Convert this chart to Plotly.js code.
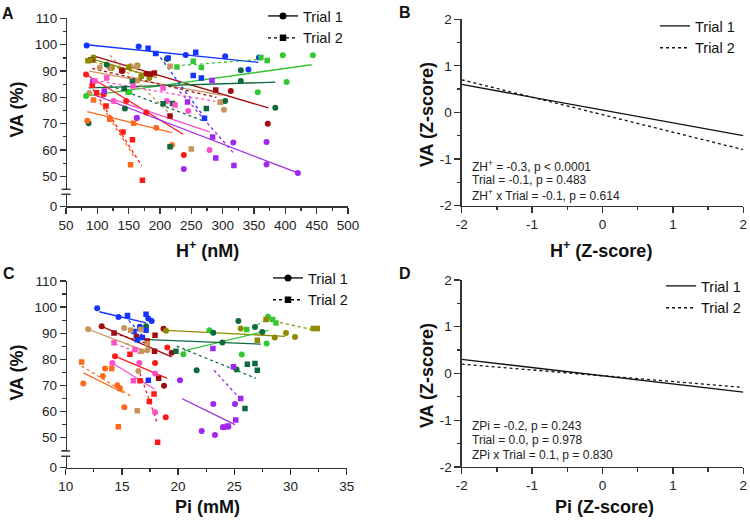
<!DOCTYPE html>
<html>
<head>
<meta charset="utf-8">
<script src="https://cdn.plot.ly/plotly-3.0.1.min.js"></script>
<style>html,body{margin:0;padding:0;background:#fff;}#chart{width:750px;height:520px;}</style>
</head>
<body>
<div id="chart"></div>
<script>
// ---------------- DATA ----------------
const participants = ['P1','P2','P3','P4','P5','P6','P7','P8','P9','P10'];
const trialNames = ['Trial 1','Trial 2'];

// Panel A: H+ (nM) vs VA (%), per participant
const A1_H  = [[83,166,241,304,341,358],[93,140,178,313,372],[94,123,164,183],[87,104,120,153,164,298,302],[82,151,356,396,402,444],[86,115,144,211,304,329,329,384],[82,110,146,178,238],[84,120,194,219],[126,163,211,245,279],[93,163,238,317,370,370,420]];
const A1_VA = [[99.7,99.3,96.1,95.6,90.6,95.2],[94.5,90,89,82.4,70],[95.2,91.2,92.1,87.4],[81.7,91.4,91.2,91.8,86.4,78.3,75.3],[80.5,82,82,96,85.9,96],[70.2,92.4,75.8,94.6,78.6,90.3,86.2,76.1],[88.7,81.1,78.6,74.3,58.1],[71.1,72.1,68.5,61.9],[78.6,72.1,78.6,74.8,60],[86.2,72.3,52.8,62.9,63.1,54.5,51.3]];
const A2_H  = [[181,193,213,257,253,266,271],[90,139,184,191,216,289],[85,89,150,170],[163,216,250,296],[149,227,253,266,361,371],[143,156,205,220,216,274],[92,99,114,141,156,172],[94,120,158,153],[96,115,157,205,224],[111,244,283,284,289,318]];
const A2_VA = [[98.7,96.7,95,97.2,88.3,87.4,72.1],[94.3,90.2,88.9,89.3,72.9,82.8],[93.9,94.1,91.5,88],[91.8,91.8,60.4,78.2],[82.1,91.6,93.7,91.4,95.2,94],[83.4,86.1,77.6,77.7,61.3,75.8],[84.6,81.8,76.7,66.9,63.9,48.5],[79,71.7,70.2,54.4],[86.2,87.4,84.3,83.6,77.1],[82.4,78.3,86.4,65,57,54.1]];
// regression line end points (x start/end, y start/end)
const A1_fitH  = [[83,357],[91,373],[85,195],[87,300],[81,442],[86,384],[82,237],[84,219],[126,279],[94,420]];
const A1_fitVA = [[100,93.3],[96,76],[95,87.5],[90,80.8],[80.5,92.4],[83.6,85.8],[88.7,66],[74.6,66.6],[79.2,66.9],[81.1,51.3]];
const A2_fitH  = [[195,272],[92,290],[85,190],[120,215],[216,370],[120,270],[88,171],[104,160],[96,288],[225,317]];
const A2_fitVA = [[97,72],[91,80],[94,88],[96,74],[91.8,94.6],[84.5,71],[85,54],[78,57],[86.5,78.5],[84,59]];

// Panel C: Pi (mM) vs VA (%)
const C1_Pi = [[12.8,14.7,16.6,17.35,17.65],[13.2,16.3,18.7,19.43,18.75],[18.93,25.57,28.6,29.6,30.4],[12.0,15.2,16.46,16.76,17.26],[20.47,22.78,25.66,27.88,28.0],[17.15,21.65,23.13,23.94,25.2,25.36,26.84,27.49],[14.39,17.95,19.04,18.9],[11.57,13.3,13.5,14.6,15.22],[14.15,16.55,17.95,17.95],[20.17,22.1,23.13,23.28,24.0,24.47,25.06]];
const C1_VA = [[99.5,96.2,92.5,95.6,94.7],[92.6,88.8,91.7,82.5,69.9],[90.9,91.8,88.3,90.1,88.5],[91.5,92,75.5,83.1,83.5],[81.9,91.1,81.8,86,96.3],[92.6,75.8,90.2,86.4,76.1,94.7,92.4,90.4],[81.2,78.6,84.5,57.8],[70.7,73.6,76.5,70.1,61.6],[78.6,78.6,74.6,59.7],[72,52.5,62.9,51,54,54.2,62.9]];
const C2_Pi = [[15.5,17.15,16.08,16.82,16.37,17.15,17.35],[14.3,17.95,17.9,18.27,17.26],[27.05,27.82,32.03,32.38],[15.78,16.67,17.26,16.37],[26.1,28.42,28.71],[19.81,26.16,26.84,27.05,25.95],[15.72,16.61,17.44,17.86,18.18],[11.42,14.09,14.83,14.68],[14.3,16.17,16.02],[23.1,24.92,25.57,25.13,24.03,24.4]];
const C2_VA = [[96.8,97.2,90.6,88.3,87.5,91.1,72],[90.1,89.2,83.1,72.7,87],[87.3,95.2,91.8,91.8],[91.1,91.4,86,60.3],[91.4,95.2,93.9],[83.1,78.1,78.4,75.8,61.2],[81.9,71.8,63.8,66.7,48.2],[79,76.5,68.8,54.2],[86.3,83.7,71.8],[84.1,77.1,65,56.8,54,54.5]];
const C1_fitPi = [[12.99,17.15],[13.2,19.43],[18.93,29.51],[12.0,17.26],[20.53,28.03],[17.35,27.37],[14.39,19.04],[11.57,15.13],[14.15,17.89],[20.32,25.06]];
const C1_fitVA = [[98.2,93.9],[92.6,80.9],[91.1,88.8],[91.5,82.8],[83.2,91.1],[87.5,85.8],[81.2,72.7],[74.8,67.2],[78.6,68.6],[65,55]];
const C2_fitPi = [[15.6,17.15],[14.3,17.3],[28.03,32.18],[15.4,17.3],[26.1,28.2],[19.87,26.93],[16.61,18.15],[11.42,15.81],[14.39,16.76],[23.2,25.36]];
const C2_fitVA = [[94.9,87.5],[90,86],[95.1,91.1],[86,82.5],[91.1,95.8],[85,72.7],[74.6,55.5],[77.4,65.9],[86,81.9],[75.8,65.6]];

// Panels B and D: model lines (Z-scores)
const zX    = [-2, 2];
const zB_T1 = [0.6, -0.5];
const zB_T2 = [0.7, -0.8];
const zD_T1 = [0.3, -0.4];
const zD_T2 = [0.2, -0.3];

// tick labels
const yTicksA = [50,60,70,80,90,100,110];
const yTicksBreak = [0];
const xTicksA = [50,100,150,200,250,300,350,400,450,500];
const xTicksC = [10,15,20,25,30,35];
const zTickVals = [-2,-1,0,1,2];
const zTickText = ['-2','-1','0','1','2'];

// text
const statsB = ['ZH<sup>+</sup> = -0.3, p &lt; 0.0001','Trial = -0.1, p = 0.483','ZH<sup>+</sup> x Trial = -0.1, p = 0.614'];
const statsD = ['ZPi = -0.2, p = 0.243','Trial = 0.0, p = 0.978','ZPi x Trial = 0.1, p = 0.830'];

// ---------------- STYLE ----------------
const palette = ['#1433ff','#9e0c10','#8e8a00','#c8945a','#33c833','#0e6a3c','#ff1a1a','#ff6a1a','#ff4fc8','#a027ee'];
const FONT = 'Arial, "Liberation Sans", Helvetica, sans-serif';
const W = 750, H = 520;
const fx = p => p / W;
const fy = p => 1 - p / H;

const traces = [];
function addFits(xs, ys, dash, xa, ya) {
  xs.forEach((xx, i) => traces.push({
    x: xx, y: ys[i], mode: 'lines', xaxis: xa, yaxis: ya, showlegend: false, hoverinfo: 'skip',
    line: {color: palette[i], width: 1.3, dash: dash}
  }));
}
function addPoints(xs, ys, symbol, size, xa, ya) {
  xs.forEach((xx, i) => traces.push({
    x: xx, y: ys[i], mode: 'markers', xaxis: xa, yaxis: ya, showlegend: false, name: participants[i],
    marker: {color: palette[i], size: size, symbol: symbol, line: {width: 0}}
  }));
}
// Panel A
addFits(A1_fitH, A1_fitVA, 'solid', 'x', 'y');
addFits(A2_fitH, A2_fitVA, 'dot', 'x', 'y');
addPoints(A1_H, A1_VA, 'circle', 6, 'x', 'y');
addPoints(A2_H, A2_VA, 'square', 5.5, 'x', 'y');
// Panel C
addFits(C1_fitPi, C1_fitVA, 'solid', 'x3', 'y4');
addFits(C2_fitPi, C2_fitVA, 'dot', 'x3', 'y4');
addPoints(C1_Pi, C1_VA, 'circle', 6, 'x3', 'y4');
addPoints(C2_Pi, C2_VA, 'square', 5.5, 'x3', 'y4');
// empty traces so the short axis-break segments get their own subplots
traces.push({x:[null], y:[null], xaxis:'x', yaxis:'y2', mode:'markers', showlegend:false});
traces.push({x:[null], y:[null], xaxis:'x3', yaxis:'y5', mode:'markers', showlegend:false});
// legend entries for A and C
[['x','y','legend'],['x3','y4','legend3']].forEach(([xa, ya, lg]) => {
  traces.push({x:[null], y:[null], xaxis:xa, yaxis:ya, mode:'lines+markers', name:trialNames[0], legend:lg,
    line:{color:'#000', width:1.3}, marker:{symbol:'circle', size:7, color:'#000'}});
  traces.push({x:[null], y:[null], xaxis:xa, yaxis:ya, mode:'lines+markers', name:trialNames[1], legend:lg,
    line:{color:'#000', width:1.3, dash:'dot'}, marker:{symbol:'square', size:6.5, color:'#000'}});
});
// Panels B and D
[[zB_T1, zB_T2, 'x2', 'y3', 'legend2'], [zD_T1, zD_T2, 'x4', 'y6', 'legend4']].forEach(([t1, t2, xa, ya, lg]) => {
  traces.push({x: zX, y: t1, mode:'lines', xaxis:xa, yaxis:ya, name:trialNames[0], legend:lg, line:{color:'#111', width:1.3}});
  traces.push({x: zX, y: t2, mode:'lines', xaxis:xa, yaxis:ya, name:trialNames[1], legend:lg, line:{color:'#111', width:1.3, dash:'dot'}});
});

const axBase = {showgrid:false, zeroline:false, showline:true, linecolor:'#333', linewidth:1.3,
  ticks:'outside', ticklen:6, tickwidth:1.3, tickcolor:'#333', fixedrange:true,
  tickfont:{family:FONT, size:13.5, color:'#222'}};
function minor(dt) { return {tickmode:'linear', tick0:0, dtick:dt, ticks:'outside', ticklen:3.5, tickwidth:1.2, tickcolor:'#333', showgrid:false}; }
function ax(o) { return Object.assign({}, axBase, o); }

const legendFont = {family:FONT, size:14.5, color:'#111'};
const layout = {
  width: W, height: H, margin:{l:0, r:0, t:0, b:0}, paper_bgcolor:'#fff', plot_bgcolor:'rgba(0,0,0,0)',
  font:{family:FONT, color:'#222'}, showlegend:true, hovermode:false,
  // Panel A
  xaxis:  ax({domain:[fx(66), fx(348)], range:[50,500], anchor:'free', position:fy(205),
    tickmode:'array', tickvals:xTicksA, ticktext:xTicksA.map(String), minor:minor(25)}),
  yaxis:  ax({domain:[fy(188), fy(16.5)], range:[45.1,110], anchor:'free', position:fx(66),
    tickmode:'array', tickvals:yTicksA, ticktext:yTicksA.map(String), minor:minor(5)}),
  yaxis2: ax({domain:[fy(205), fy(193)], range:[0,4.5], anchor:'free', position:fx(66),
    tickmode:'array', tickvals:yTicksBreak, ticktext:yTicksBreak.map(String)}),
  // Panel B
  xaxis2: ax({domain:[fx(461.7), fx(743.3)], range:[-2,2], anchor:'y3',
    tickmode:'array', tickvals:zTickVals, ticktext:zTickText, minor:minor(0.5)}),
  yaxis3: ax({domain:[fy(204.3), fy(17.3)], range:[-2,2], anchor:'x2',
    tickmode:'array', tickvals:zTickVals, ticktext:zTickText, minor:minor(0.5)}),
  // Panel C
  xaxis3: ax({domain:[fx(65.7), fx(346.7)], range:[10,35], anchor:'free', position:fy(467.3),
    tickmode:'array', tickvals:xTicksC, ticktext:xTicksC.map(String), minor:minor(2.5)}),
  yaxis4: ax({domain:[fy(450.7), fy(280)], range:[44.9,110], anchor:'free', position:fx(65.7),
    tickmode:'array', tickvals:yTicksA, ticktext:yTicksA.map(String), minor:minor(5)}),
  yaxis5: ax({domain:[fy(467.3), fy(456)], range:[0,4.3], anchor:'free', position:fx(65.7),
    tickmode:'array', tickvals:yTicksBreak, ticktext:yTicksBreak.map(String)}),
  // Panel D
  xaxis4: ax({domain:[fx(461.7), fx(743.3)], range:[-2,2], anchor:'y6',
    tickmode:'array', tickvals:zTickVals, ticktext:zTickText, minor:minor(0.5)}),
  yaxis6: ax({domain:[fy(466.7), fy(279)], range:[-2,2], anchor:'x4',
    tickmode:'array', tickvals:zTickVals, ticktext:zTickText, minor:minor(0.5)}),
  legend:  {x:fx(263), y:fy(-2),  xanchor:'left', yanchor:'top', bgcolor:'rgba(0,0,0,0)', font:legendFont, tracegroupgap:0},
  legend2: {x:fx(655), y:fy(8),   xanchor:'left', yanchor:'top', bgcolor:'rgba(0,0,0,0)', font:legendFont, tracegroupgap:0},
  legend3: {x:fx(268), y:fy(261), xanchor:'left', yanchor:'top', bgcolor:'rgba(0,0,0,0)', font:legendFont, tracegroupgap:0},
  legend4: {x:fx(661), y:fy(269), xanchor:'left', yanchor:'top', bgcolor:'rgba(0,0,0,0)', font:legendFont, tracegroupgap:0},
  shapes: [],
  annotations: []
};

// axis break marks
[[188,193,66],[450.7,456,65.7]].forEach(([a, b, xAxisPx]) => {
  [a, b].forEach(yy => layout.shapes.push({type:'line', xref:'paper', yref:'paper',
    x0:fx(xAxisPx - 4.5), x1:fx(xAxisPx + 4.5), y0:fy(yy), y1:fy(yy), line:{color:'#333', width:1.4}}));
});

function ann(text, x, y, opts) {
  layout.annotations.push(Object.assign({text:text, xref:'paper', yref:'paper', x:fx(x), y:fy(y),
    showarrow:false, xanchor:'center', yanchor:'middle', font:{family:FONT, size:18, color:'#111', weight:700}}, opts || {}));
}
const letterFont = {family:FONT, size:16, color:'#111', weight:700};
ann('A', 8, 12, {font:letterFont});
ann('B', 404.5, 11, {font:letterFont});
ann('C', 8.5, 273, {font:letterFont});
ann('D', 404.5, 272.5, {font:letterFont});
// axis titles
ann('H<sup>+</sup> (nM)', 207, 248);
ann('VA (%)', 17, 108, {textangle:-90});
ann('H<sup>+</sup> (Z-score)', 601, 248);
ann('VA (Z-score)', 426.5, 113, {textangle:-90});
ann('Pi (mM)', 207, 506.5);
ann('VA (%)', 17, 372, {textangle:-90});
ann('Pi (Z-score)', 604, 506.5);
ann('VA (Z-score)', 426.5, 375, {textangle:-90});
// statistics text
const statYB = [164.3, 178.7, 193.3];
const statYD = [425.7, 440, 455];
const statFont = {family:FONT, size:12, color:'#222'};
statsB.forEach((t, i) => ann(t, 470, statYB[i], {xanchor:'left', font:statFont}));
statsD.forEach((t, i) => ann(t, 470, statYD[i], {xanchor:'left', font:statFont}));

Plotly.newPlot('chart', traces, layout, {staticPlot:true, displayModeBar:false});
</script>
</body>
</html>
